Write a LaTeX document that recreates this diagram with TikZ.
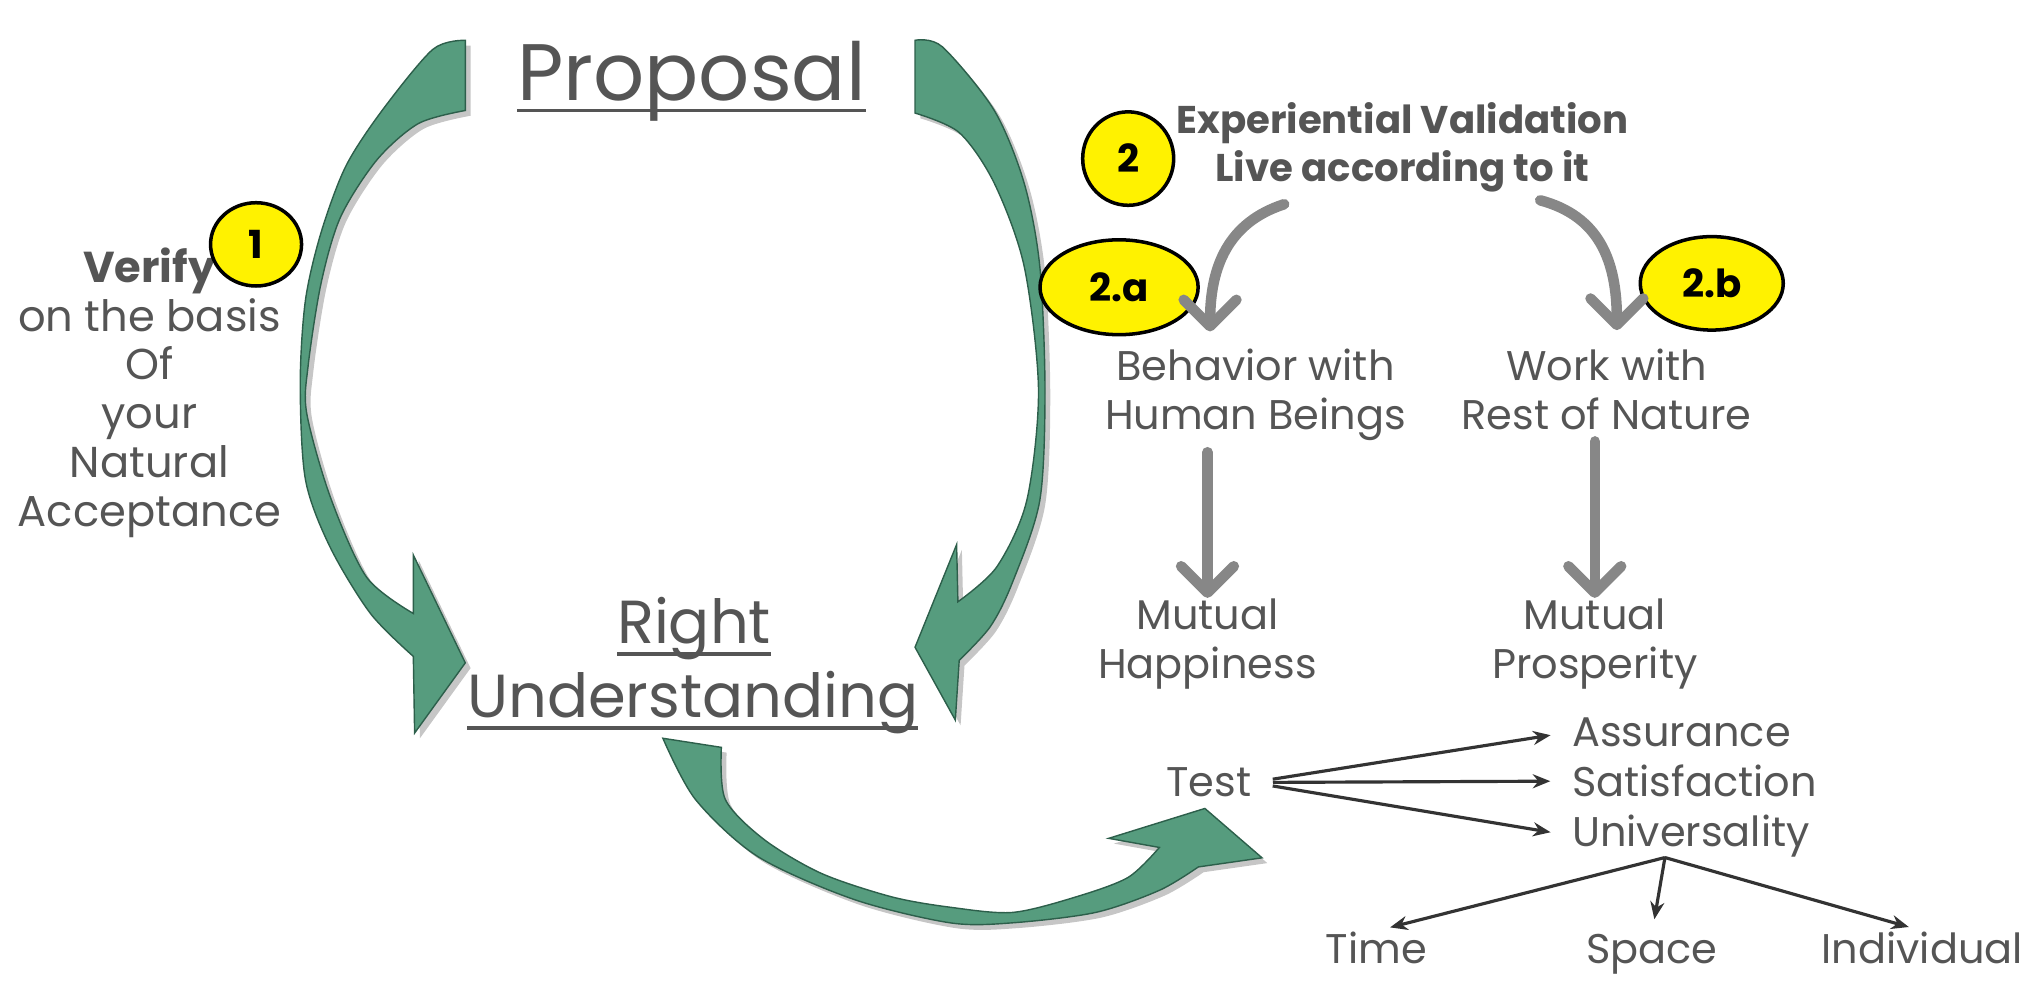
\documentclass[tikz,border=0pt]{standalone}
\usepackage{fontspec}
\setmainfont{Poppins}
\usetikzlibrary{arrows.meta,shapes.geometric,shadows,calc}
\definecolor{ribbon}{RGB}{86,156,126}
\definecolor{ribbonedge}{RGB}{45,95,75}
\definecolor{txtgray}{RGB}{85,85,85}
\definecolor{arrgray}{RGB}{135,135,135}
\newcommand{\fsbig}  {\fontsize{22.8}{26}\selectfont}
\newcommand{\fsmid}  {\fontsize{17.3}{21}\selectfont}
\newcommand{\fsleft} {\fontsize{12.3}{13.9}\selectfont}
\newcommand{\fssmall}{\fontsize{11.8}{14}\selectfont}
\newcommand{\fshead} {\fontsize{11}{13.7}\selectfont}
\newcommand{\fsbadge}{\fontsize{11}{13}\selectfont}
\newcommand{\undl}[1]{\setbox0\hbox{#1}\rlap{\rule[-3.5pt]{\wd0}{1.1pt}}\box0}

\begin{document}
\begin{tikzpicture}[x=0.013cm,y=-0.013cm,
    ribbonshape/.style={fill=ribbon,draw=ribbonedge,line width=0.4pt,
      drop shadow={shadow xshift=1.5pt,shadow yshift=-1.5pt,opacity=0.45}},
    badge/.style={ellipse,draw=black,line width=1pt,fill=yellow,inner sep=0pt,
      font=\bfseries\fsbadge,text=black},
    lbl/.style={text=txtgray,inner sep=0pt},
    garrow/.style={draw=arrgray,line width=3pt,line cap=round,
      -{Straight Barb[length=7.5pt,width=15pt,round]}},
    tarrow/.style={draw=black!80,line width=0.9pt,shorten >=4pt,
      -{Stealth[length=5pt,width=4pt]}}]
  \useasboundingbox (0,0) rectangle (1568,763);

  % green ribbons
  \filldraw[ribbonshape] (358,31) -- plot[smooth] coordinates {(358,31) (333,38) (294,85) (266,128) (247,179) (235,231) (231,295) (235,369) (254,421) (285,472) (318,505)}
     -- (319,564) -- (358,510) -- (318,427) -- (318,472)
     -- plot[smooth] coordinates {(318,472) (282,444) (254,382) (236,318) (237,282) (247,218) (262,167) (290,123) (322,95) (358,85)} -- cycle;
  \filldraw[ribbonshape] (704,31) -- plot[smooth] coordinates {(704,31) (725,36) (765,85) (788,141) (800,205) (804,300) (800,385) (779,448) (762,482) (738,508)}
     -- (735,554) -- (704,498) -- (736,419) -- (737,463)
     -- plot[smooth] coordinates {(737,463) (767,436) (790,385) (799,300) (788,205) (765,141) (738,102) (704,87)} -- cycle;
  \filldraw[ribbonshape] (510,568) -- (555,575) -- plot[smooth] coordinates {(555,575) (558,615) (588,646) (632,672) (686,690) (731,698) (779,702) (828,690) (868,675) (892,652)}
     -- (853,645) -- (927,622) -- (971,660) -- (922,667)
     -- plot[smooth] coordinates {(922,667) (892,685) (843,702) (779,710) (731,710) (657,692) (583,659) (535,615) (510,568)} -- cycle;

  % titles
  \node[lbl,anchor=base,font=\fsbig] (prop) at (532,77) {\undl{Proposal}};
  \node[lbl,anchor=base,font=\fsmid] (right) at (534,495) {\undl{Right}};
  \node[lbl,anchor=base,font=\fsmid] (under) at (533,552) {\undl{Understanding}};

  % step 1
  \node[lbl,align=center,anchor=north,font=\fsleft] (verify) at (115,190)
    {\textbf{Verify}\\on the basis\\Of\\your\\Natural\\Acceptance};
  \node[badge,minimum width=25.9pt,minimum height=23.7pt] (one) at (197,188) {1};

  % step 2
  \node[lbl,align=center,anchor=north,font=\bfseries\fshead] (exp) at (1079,78)
    {Experiential Validation\\Live according to it};
  \node[badge,minimum width=25.9pt,minimum height=26.6pt] (two) at (868,122) {2};
  \node[lbl,align=center,anchor=north,font=\fssmall] (beh) at (966,268) {Behavior with\\Human Beings};
  \node[lbl,align=center,anchor=north,font=\fssmall] (work) at (1236,268) {Work with\\Rest of Nature};
  \node[badge,minimum width=45pt,minimum height=27pt] (twoa) at (861,221) {2.a};
  \node[badge,minimum width=40.7pt,minimum height=26.6pt] (twob) at (1317,218) {2.b};
  \node[lbl,align=center,anchor=north,font=\fssmall] (hap) at (929,460) {Mutual\\Happiness};
  \node[lbl,align=center,anchor=north,font=\fssmall] (pros) at (1227,460) {Mutual\\Prosperity};

  \draw[garrow] ($(exp.south)+(-91,9)$) .. controls ($(exp.south)+(-134,23)$) and ($(beh.north)+(-35,-63)$) .. ($(beh.north)+(-35,-13)$);
  \draw[garrow] ($(exp.south)+(106,6)$) .. controls ($(exp.south)+(151,18)$) and ($(work.north)+(8,-68)$) .. ($(work.north)+(8,-14)$);
  \draw[garrow,shorten <=3pt] (hap.north |- beh.south) -- (hap.north);
  \draw[garrow,shorten <=3pt] (pros.north |- work.south) -- (pros.north);

  % test
  \node[lbl,anchor=base,font=\fssmall] (test) at (930,613) {Test};
  \node[lbl,anchor=base west,font=\fssmall] (assur) at (1209,574) {Assurance};
  \node[lbl,anchor=base west,font=\fssmall] (sat) at (1209,613) {Satisfaction};
  \node[lbl,anchor=base west,font=\fssmall] (univ) at (1209,651) {Universality};
  \node[lbl,anchor=base,font=\fssmall] (time) at (1059,741) {Time};
  \node[lbl,anchor=base,font=\fssmall] (space) at (1271,741) {Space};
  \node[lbl,anchor=base,font=\fssmall] (indiv) at (1479,741) {Individual};
  \coordinate (fork) at ($(univ.south)+(-20,0)$);
  \foreach \t in {assur,sat,univ}
    \draw[tarrow,shorten <=6pt,shorten >=6pt] (test.east) -- (\t.west);
  \foreach \t in {time,space,indiv}
    \draw[tarrow] (fork) -- (\t.north);
\end{tikzpicture}
\end{document}
